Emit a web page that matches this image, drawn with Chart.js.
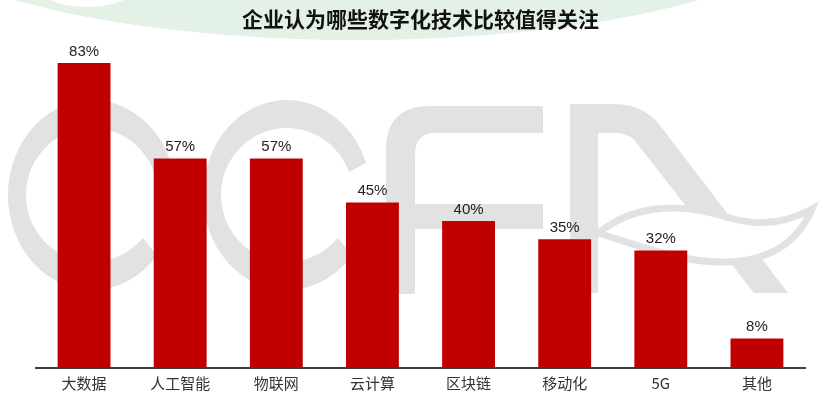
<!DOCTYPE html>
<html>
<head>
<meta charset="utf-8">
<script src="https://cdn.jsdelivr.net/npm/chart.js@4/dist/chart.umd.min.js"></script>
<style>
  html, body { margin: 0; padding: 0; background: #fff; }
  #wrap { width: 829px; height: 401px; }
</style>
</head>
<body>
<div id="wrap"><canvas id="stage" width="829" height="401"></canvas></div>
<script>
var chartTitle = '企业认为哪些数字化技术比较值得关注';
var categories = ['大数据', '人工智能', '物联网', '云计算', '区块链', '移动化', '5G', '其他'];
var shares = [83, 57, 57, 45, 40, 35, 32, 8];

// 背景のCCFAロゴ（透かし）
var watermark = {
  id: 'watermark',
  beforeDraw: function(chart) {
    var ctx = chart.ctx;
    ctx.save();
    ctx.fillStyle = '#fff';
    ctx.fillRect(0, 0, chart.width, chart.height);

    // green arc at top
    ctx.fillStyle = '#e4f1e7';
    ctx.beginPath();
    ctx.ellipse(357, -80, 459, 120, 0, 0, Math.PI * 2);
    ctx.fill();
    ctx.fillStyle = '#fff';
    ctx.beginPath();
    ctx.ellipse(87, -20, 55, 27, 0, 0, Math.PI * 2);
    ctx.fill();

    ctx.fillStyle = '#e2e2e2';
    function letterC(cx, cy) {
      var a1 = Math.PI * 0.22, a2 = Math.PI * 1.89;
      ctx.beginPath();
      ctx.ellipse(cx, cy, 84, 95, 0, a1, a2, false);
      ctx.ellipse(cx, cy, 66, 67, 0, a2, a1, true);
      ctx.closePath();
      ctx.fill();
    }
    letterC(92, 195);
    letterC(287, 195);

    // F
    ctx.beginPath();
    ctx.moveTo(386, 294);
    ctx.lineTo(386, 150);
    ctx.quadraticCurveTo(386, 106, 430, 106);
    ctx.lineTo(543, 106);
    ctx.lineTo(543, 133);
    ctx.lineTo(435, 133);
    ctx.quadraticCurveTo(415, 133, 415, 155);
    ctx.lineTo(415, 294);
    ctx.closePath();
    ctx.fill();
    ctx.fillRect(415, 204, 128, 25);

    // A
    ctx.beginPath();
    ctx.moveTo(570, 293);
    ctx.lineTo(570, 104);
    ctx.lineTo(615, 104);
    ctx.quadraticCurveTo(645, 104, 662, 128);
    ctx.lineTo(788, 293);
    ctx.lineTo(754, 293);
    ctx.lineTo(635, 141);
    ctx.quadraticCurveTo(628, 133, 615, 133);
    ctx.lineTo(598, 133);
    ctx.lineTo(598, 293);
    ctx.closePath();
    ctx.fill();

    // leaf
    ctx.beginPath();
    ctx.moveTo(598, 233);
    ctx.bezierCurveTo(640, 200, 690, 205, 730, 218);
    ctx.bezierCurveTo(760, 227, 788, 222, 812, 209);
    ctx.bezierCurveTo(798, 242, 770, 262, 722, 262);
    ctx.bezierCurveTo(680, 262, 640, 246, 598, 233);
    ctx.closePath();
    ctx.fillStyle = '#fff';
    ctx.fill();
    ctx.lineWidth = 7;
    ctx.strokeStyle = '#e2e2e2';
    ctx.stroke();
    ctx.restore();
  }
};

var valueLabels = {
  id: 'valueLabels',
  afterDatasetsDraw: function(chart) {
    var ctx = chart.ctx;
    var meta = chart.getDatasetMeta(0);
    ctx.save();
    ctx.font = '15px "Liberation Sans", Arial, sans-serif';
    ctx.fillStyle = '#222';
    ctx.textAlign = 'center';
    ctx.textBaseline = 'bottom';
    meta.data.forEach(function(bar, i) {
      ctx.fillText(shares[i] + '%', bar.x, bar.y - 4);
    });
    ctx.restore();
  }
};

var canvas = document.getElementById('stage');
var chart = new Chart(canvas, {
  type: 'bar',
  data: {
    labels: categories,
    datasets: [{
      data: shares,
      backgroundColor: '#c00000',
      borderWidth: 0,
      barPercentage: 0.55,
      categoryPercentage: 1
    }]
  },
  options: {
    responsive: false,
    animation: false,
    layout: { padding: { left: 36, right: 24, top: 0, bottom: 10 } },
    plugins: {
      legend: { display: false },
      tooltip: { enabled: false },
      title: {
        display: true,
        text: chartTitle,
        color: '#111',
        font: { family: '"Noto Sans CJK SC", sans-serif', size: 21, weight: 'bold' },
        padding: { top: 6, bottom: 6 }
      }
    },
    scales: {
      x: {
        grid: { display: false },
        border: { display: true, color: '#404040', width: 2 },
        ticks: {
          color: '#333',
          padding: 0,
          font: { family: '"Noto Sans CJK SC", sans-serif', size: 15, lineHeight: 1 }
        }
      },
      y: {
        display: false,
        min: 0,
        max: 90
      }
    }
  },
  plugins: [watermark, valueLabels]
});
</script>
</body>
</html>
